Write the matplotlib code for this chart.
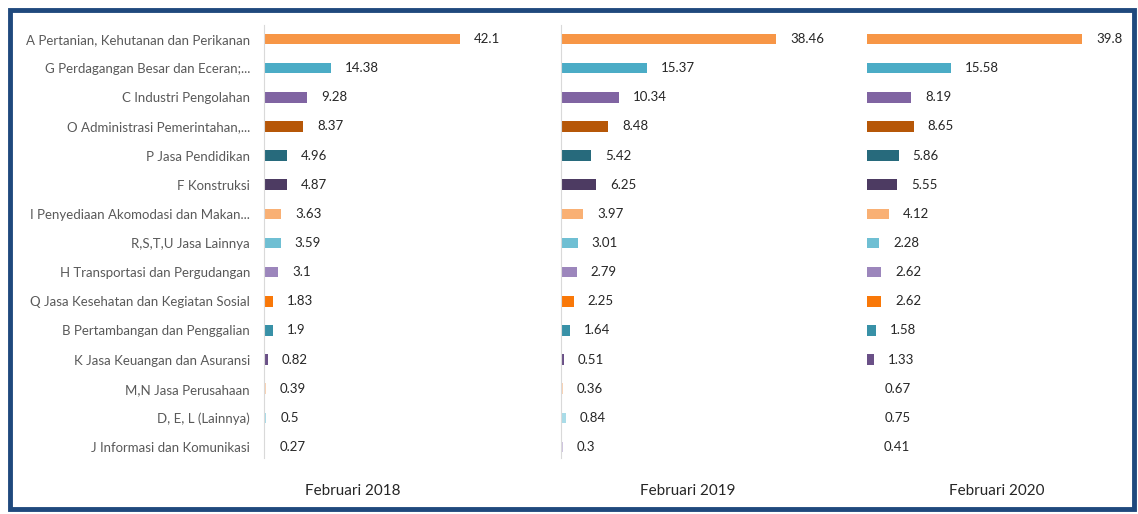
import matplotlib
matplotlib.use("Agg")
import matplotlib.pyplot as plt
from matplotlib.patches import Rectangle

plt.rcParams['font.family'] = ['Lato', 'DejaVu Sans']

categories = [
    "A Pertanian, Kehutanan dan Perikanan",
    "G Perdagangan Besar dan Eceran;...",
    "C Industri Pengolahan",
    "O Administrasi Pemerintahan,...",
    "P Jasa Pendidikan",
    "F Konstruksi",
    "I Penyediaan Akomodasi dan Makan...",
    "R,S,T,U Jasa Lainnya",
    "H Transportasi dan Pergudangan",
    "Q Jasa Kesehatan dan Kegiatan Sosial",
    "B Pertambangan dan Penggalian",
    "K Jasa Keuangan dan Asuransi",
    "M,N Jasa Perusahaan",
    "D, E, L (Lainnya)",
    "J Informasi dan Komunikasi",
]
feb2018 = [42.1, 14.38, 9.28, 8.37, 4.96, 4.87, 3.63, 3.59, 3.1, 1.83, 1.9, 0.82, 0.39, 0.5, 0.27]
feb2019 = [38.46, 15.37, 10.34, 8.48, 5.42, 6.25, 3.97, 3.01, 2.79, 2.25, 1.64, 0.51, 0.36, 0.84, 0.3]
feb2020 = [39.8, 15.58, 8.19, 8.65, 5.86, 5.55, 4.12, 2.28, 2.62, 2.62, 1.58, 1.33, 0.67, 0.75, 0.41]
titles = ["Februari 2018", "Februari 2019", "Februari 2020"]

colors = ["#F79646", "#4BACC6", "#8064A2", "#B65708", "#276A7C", "#4D3B62",
          "#F9B074", "#6FBFD3", "#9C86BC", "#F97808", "#3891A7", "#6A5087",
          "#FAD3B4", "#A9DCE8", "#CFC4E0"]
# in the 2020 panel the last three bars are not drawn
colors2020 = colors[:12] + ["none", "none", "none"]

W, H = 1138, 514
fig = plt.figure(figsize=(W / 100, H / 100), dpi=100)

# panel geometry in pixels: left edge, width, px per unit, title centre
panels = [
    (264, 270, 4.66, 353, feb2018, colors, True),
    (561, 270, 5.59, 688, feb2019, colors, True),
    (867, 250, 5.40, 997, feb2020, colors2020, False),
]
top_px, bot_px = 25, 458
n = len(categories)
row0, rowN = 39, 447
step = (rowN - row0) / (n - 1)
ylo = -(row0 - top_px) / step
yhi = (n - 1) + (bot_px - rowN) / step

for i, (left, width, scale, tx, vals, cols, spine) in enumerate(panels):
    ax = fig.add_axes([left / W, 1 - bot_px / H, width / W, (bot_px - top_px) / H])
    ypos = list(range(n))
    ax.barh(ypos, vals, height=0.36, color=cols)
    ax.set_xlim(0, width / scale)
    ax.set_ylim(yhi, ylo)
    for y, v in zip(ypos, vals):
        ax.annotate(f"{v:g}", (v, y), xytext=(14, 0), textcoords='offset pixels',
                    va='center', ha='left', fontsize=9.5, color='#262626')
    for s in ['top', 'right', 'bottom']:
        ax.spines[s].set_visible(False)
    ax.spines['left'].set_color('#D9D9D9')
    ax.spines['left'].set_visible(spine)
    ax.set_xticks([])
    if i == 0:
        ax.set_yticks(ypos)
        ax.set_yticklabels(categories, fontsize=9.5, color='#595959')
        ax.tick_params(axis='y', length=0, pad=10)
    else:
        ax.set_yticks([])
    fig.text(tx / W, 1 - 491 / H, titles[i], ha='center', va='center',
             fontsize=11, color='#262626')

fig.patches.append(Rectangle((9.5 / W, 1 - 509 / H), 1124 / W, 499 / H,
                             transform=fig.transFigure, fill=False,
                             edgecolor='#1F497D', linewidth=3.5))

fig.savefig("out.png", dpi=100)
